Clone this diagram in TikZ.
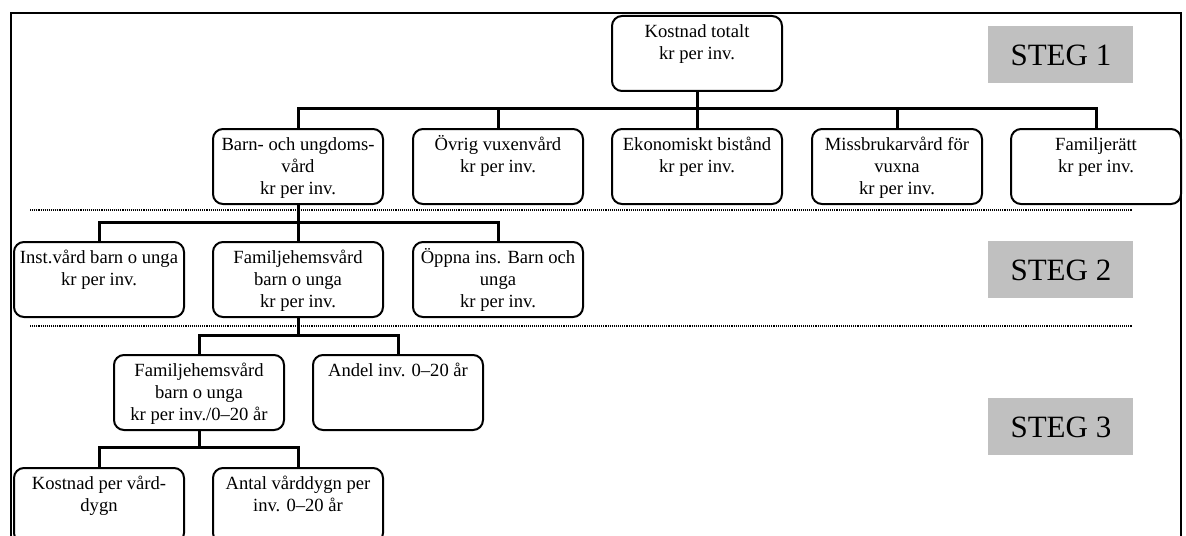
\documentclass[tikz,border=0pt]{standalone}
\usepackage{fontspec}
\setmainfont{Liberation Serif}
\newcommand\mystrutA{\rule{0pt}{9pt}}
\definecolor{steggray}{HTML}{C0C0C0}
\begin{document}
\begin{tikzpicture}[x=0.5pt,y=-0.5pt,
  box/.style={draw, line width=1pt, rounded corners=5pt, minimum width=85pt, minimum height=37.5pt, anchor=north west, inner sep=0pt},
  txt/.style={anchor=north, inner sep=0pt, align=center, font=\fontsize{9.3pt}{11pt}\selectfont},
  conn/.style={line width=1.5pt},
  sep/.style={line width=1pt, dash pattern=on 0.55pt off 0.5pt},
  steg/.style={fill=steggray, minimum width=72.5pt, minimum height=28.5pt, anchor=north west, inner sep=0pt, font=\fontsize{15.5pt}{18pt}\selectfont},
  frame/.style={line width=1pt}]
\useasboundingbox (0,0) rectangle (1186,535);
\clip (0,0) rectangle (1186,535);
\newcommand\obox[4]{%
  \node[box] (#1) at (#2,#3) {};
  \node[txt] (#1t) at ([yshift=-2pt]#1.north) {\mystrutA#4};}
% frame
\draw[frame] (11,13) rectangle (1181,620);
% separators
\coordinate (s1a) at (30,210); \coordinate (s1b) at (1132,210);
\coordinate (s2a) at (30,326); \coordinate (s2b) at (1132,326);
\draw[sep] (s1a) -- (s1b);
\draw[sep] (s2a) -- (s2b);
% STEG labels
\node[steg] (steg1) at (988,26) {STEG 1};
\node[steg] (steg2) at (988,241) {STEG 2};
\node[steg] (steg3) at (988,398) {STEG 3};
% level 0
\obox{k0}{611}{15}{Kostnad totalt\\kr per inv.}
% level 1
\obox{b1}{212}{128}{Barn- och ungdoms-\\vård\\kr per inv.}
\obox{b2}{412}{128}{Övrig vuxenvård\\kr per inv.}
\obox{b3}{611}{128}{Ekonomiskt bistånd\\kr per inv.}
\obox{b4}{811}{128}{Missbrukarvård för\\vuxna\\kr per inv.}
\obox{b5}{1010}{128}{Familjerätt\\kr per inv.}
% level 2
\obox{c1}{13}{241}{Inst.vård barn o unga\\kr per inv.}
\obox{c2}{212}{241}{Familjehemsvård\\barn o unga\\kr per inv.}
\obox{c3}{412}{241}{Öppna ins. Barn och\\unga\\kr per inv.}
% level 3
\obox{d1}{113}{354}{Familjehemsvård\\barn o unga\\kr per inv./0–20 år}
\obox{d2}{312}{354}{Andel inv. 0–20 år}
% level 4
\obox{e1}{13}{467}{Kostnad per vård-\\dygn}
\obox{e2}{212}{467}{Antal vårddygn per\\inv. 0–20 år}
% buses
\coordinate (bus1) at (0,108);
\coordinate (bus2) at (0,222);
\coordinate (bus3) at (0,335);
\coordinate (bus4) at (0,447);
% connectors
\foreach \c in {b1,b2,b3,b4,b5}
  \draw[conn] (k0.south) -- (k0.south |- bus1) -| (\c.north);
\foreach \c in {c1,c2,c3}
  \draw[conn] (b1.south) -- (b1.south |- bus2) -| (\c.north);
\foreach \c in {d1,d2}
  \draw[conn] (c2.south) -- (c2.south |- bus3) -| (\c.north);
\foreach \c in {e1,e2}
  \draw[conn] (d1.south) -- (d1.south |- bus4) -| (\c.north);
\end{tikzpicture}
\end{document}
